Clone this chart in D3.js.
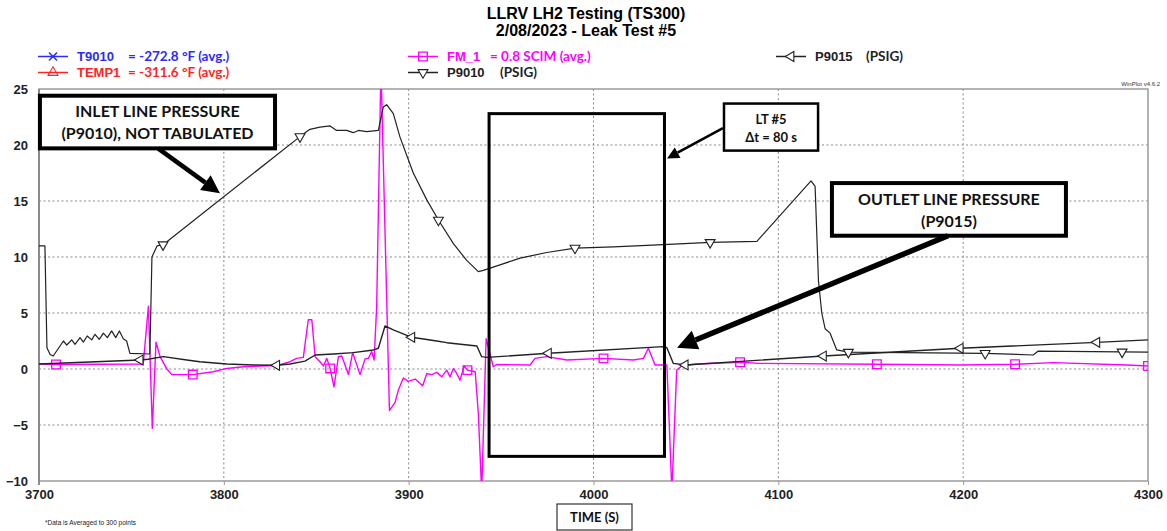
<!DOCTYPE html>
<html>
<head>
<meta charset="utf-8">
<script src="https://cdn.jsdelivr.net/npm/d3@7"></script>
<style>
  body { margin: 0; background: #fff; }
  svg { display: block; font-family: 'Liberation Sans', Arial, sans-serif; }
  .grid line { stroke: #8a8a8a; stroke-dasharray: 2,2.5; stroke-width: 1; }
  .tick-label { font-weight: bold; font-size: 13px; fill: #222; }
  .note { font-family: Lato, 'Open Sans', sans-serif; font-weight: bold; fill: #111; }
</style>
</head>
<body>
<svg></svg>
<script>
let svgWidth = 1167
let svgHeight = 531

let xTicks = [3700, 3800, 3900, 4000, 4100, 4200, 4300]
let yTicks = [-10, -5, 0, 5, 10, 15, 20, 25]

// P9010 inlet pressure (PSIG)
let p9010Time = [3700, 3703.2, 3704.3, 3706, 3707.7, 3713.2, 3715, 3717.7, 3719.5, 3722.2, 3724, 3726.1, 3728.5,
  3730.3, 3732.6, 3734.8, 3737, 3739.3, 3741.5, 3743.5, 3745.6, 3747.4, 3749.2, 3760, 3761.1, 3763.9, 3767.1,
  3841.2, 3846.6, 3852, 3857.5, 3861, 3866.5, 3870, 3872.8, 3877.3, 3883.6, 3886.3, 3888.1, 3891.7, 3895.3,
  3902.5, 3909.8, 3916.1, 3924.2, 3931.4, 3937.7, 3940.4, 3949.4, 3960.3, 3974.7, 3990, 4010.8, 4037.8, 4063.1,
  4088.4, 4117.7, 4119.9, 4121.7, 4123.5, 4125.3, 4128, 4131.6, 4137.9, 4211.9, 4237.9, 4240.6, 4300]
let p9010Val = [11.0, 11.0, 1.9, 1.3, 1.16, 2.5, 2.14, 2.6, 2.2, 2.8, 2.4, 2.95, 2.6,
  3.1, 2.65, 3.2, 2.8, 3.4, 2.8, 3.4, 2.7, 2.5, 1.4, 1.34, 10.0, 11.0, 11.1,
  20.75, 21.4, 21.6, 21.7, 21.3, 21.3, 21.1, 21.3, 21.2, 21.3, 23.4, 23.6, 22.8, 20.7,
  17.5, 15.1, 13.3, 11.2, 9.7, 8.7, 8.8, 9.3, 9.9, 10.4, 10.8, 10.9, 11.1, 11.3,
  11.4, 16.8, 16.3, 7.9, 5.0, 3.6, 3.2, 1.7, 1.5, 1.4, 1.25, 1.6, 1.5]
let p9010Marks = [3767.1, 3841.2, 3916.1, 3990, 4063.1, 4137.9, 4211.9, 4286]

// P9015 outlet pressure (PSIG)
let p9015Time = [3700, 3754.7, 3759, 3767.3, 3780, 3787, 3801.6, 3816, 3828.6, 3835.8, 3843.9, 3849.4, 3859.3,
  3870, 3880.9, 3883.6, 3887.2, 3891.7, 3901.7, 3915.2, 3920.6, 3936.9, 3939.5, 3942.3, 3975.6, 4037.8, 4039.7,
  4043.2, 4049.6, 4124.4, 4198.4, 4272.3, 4300]
let p9015Val = [0.45, 0.8, 0.87, 1.1, 0.8, 0.65, 0.45, 0.36, 0.33, 0.45, 0.7, 1.25, 1.34,
  1.46, 1.7, 1.85, 3.84, 3.5, 2.83, 2.5, 2.35, 2.05, 1.1, 1.04, 1.4, 2.0, 1.9,
  0.5, 0.36, 1.16, 1.85, 2.38, 2.6]
let p9015Marks = [3754.7, 3828.6, 3901.7, 3975.6, 4049.6, 4124.4, 4198.4, 4272.3]

// FM_1 flow (SCIM)
let fm1Time = [3700, 3709.2, 3756.4, 3759.2, 3761.3, 3763.3, 3765.5, 3769, 3771.8, 3783.2, 3794.3, 3801.6, 3810.6,
  3828.6, 3835.8, 3839.4, 3843, 3845.7, 3847.6, 3849.4, 3852, 3853.9, 3855.7, 3857.5, 3859.6, 3862, 3863.8,
  3867.4, 3869.7, 3873.7, 3876.4, 3878.2, 3880, 3881.3, 3882.7, 3885, 3889.6, 3892.6, 3894.4, 3897.1, 3899.8,
  3903.5, 3907.6, 3909.8, 3912.5, 3915.2, 3917.9, 3920.6, 3922.4, 3924.2, 3926, 3927.8, 3930, 3931.8, 3936,
  3937.7, 3939.5, 3941.9, 3945.8, 3947.6, 3965.7, 3968.4, 3974.7, 3985.6, 4005.4, 4021.6, 4027, 4029.7, 4033.3,
  4039.7, 4041.1, 4042.4, 4045, 4047.7, 4055.8, 4079.3, 4090, 4153.3, 4198.4, 4228.1, 4248.8, 4288.5, 4300]
let fm1Val = [0.45, 0.4, 0.45, 5.6, -5.3, 2.4, 1.1, 0.05, -0.5, -0.5, -0.25, 0.05, 0.2,
  0.3, 0.65, 0.95, 1.04, 4.4, 4.4, 1.1, 0.65, 0.27, 0.95, 0.05, -1.6, 1.1, 1.16,
  -0.5, 1.46, -0.5, 0.9, 0.95, 1.55, 0.8, 5.6, 27, -3.7, -3.0, -1.9, -0.8, -1.1,
  -0.9, -1.5, -0.4, -0.5, -0.3, -0.7, -0.1, -0.7, 0.05, -0.4, -1.0, 0.27, -0.1, -0.25,
  -4, -11, 2.7, 0.2, 0.4, 0.36, 0.95, 1.1, 0.8, 0.95, 0.8, 0.95, 1.85, 0.36,
  0.36, -5.4, -11, -0.1, 0.27, 0.45, 0.6, 0.5, 0.42, 0.36, 0.42, 0.57, 0.36, 0.27]
let fm1Marks = [3709.2, 3783.2, 3857.5, 3931.8, 4005.4, 4079.3, 4153.3, 4228.1, 4300]

// annotations in data units [time, value]
let inletBox = [[3700.5, 24.4], [3827.7, 19.7]]
let inletArrow = [[3764.4, 19.7], [3797.9, 15.7]]
let ltBox = [[3943.5, 22.8], [4038.4, -7.8]]
let ltLabelBox = [[4070.6, 23.7], [4121.5, 19.5]]
let ltArrow = [[4070, 21.5], [4039.8, 18.8]]
let outletBox = [[4129, 16.6], [4255.6, 11.9]]
let outletArrow = [[4191.8, 11.9], [4045.2, 1.9]]

let margin = { left: 39, right: 19, top: 89, bottom: 50 }
let xScale = d3.scaleLinear().domain([3700, 4300]).range([margin.left, svgWidth - margin.right])
let yScale = d3.scaleLinear().domain([-10, 25]).range([svgHeight - margin.bottom, margin.top])

let svg = d3.select('svg').attr('width', svgWidth).attr('height', svgHeight)

function interp(times, vals, t) {
  let i = d3.bisectLeft(times, t)
  if (i <= 0) return vals[0]
  if (i >= times.length) return vals[vals.length - 1]
  let f = (t - times[i - 1]) / (times[i] - times[i - 1])
  return vals[i - 1] + f * (vals[i] - vals[i - 1])
}

function setup() {
  // title
  svg.append('text').attr('x', 586).attr('y', 19).attr('text-anchor', 'middle')
    .style('font-weight', 'bold').style('font-size', '16px').text('LLRV LH2 Testing (TS300)')
  svg.append('text').attr('x', 586).attr('y', 36).attr('text-anchor', 'middle')
    .style('font-weight', 'bold').style('font-size', '16px').text('2/08/2023 - Leak Test #5')

  let x0 = margin.left, x1 = svgWidth - margin.right
  let y0 = margin.top, y1 = svgHeight - margin.bottom

  // grid
  svg.append('g').attr('class', 'grid').selectAll('line').data(yTicks.slice(1, -1)).enter().append('line')
    .attr('x1', x0).attr('x2', x1).attr('y1', d => yScale(d)).attr('y2', d => yScale(d))
  svg.append('g').attr('class', 'grid').selectAll('line').data(xTicks.slice(1, -1)).enter().append('line')
    .attr('y1', y0).attr('y2', y1).attr('x1', d => xScale(d)).attr('x2', d => xScale(d))

  // axes
  let yAxis = d3.axisLeft(yScale).tickValues(yTicks).tickSize(0).tickPadding(11)
  let xAxis = d3.axisBottom(xScale).tickValues(xTicks).tickFormat(d3.format('d')).tickSize(4).tickPadding(5)
  let gy = svg.append('g').attr('transform', 'translate(' + x0 + ',0)').call(yAxis)
  gy.select('.domain').remove()
  gy.selectAll('text').attr('class', 'tick-label').attr('font-family', null).attr('font-size', null)
  let gx = svg.append('g').attr('transform', 'translate(0,' + y1 + ')').call(xAxis)
  gx.select('.domain').remove()
  gx.selectAll('line').attr('stroke', '#999')
  gx.selectAll('text').attr('class', 'tick-label').attr('font-family', null).attr('font-size', null)

  svg.append('rect').attr('x', x0).attr('y', y0).attr('width', x1 - x0).attr('height', y1 - y0)
    .attr('fill', 'none').attr('stroke', '#9a9a9a').attr('stroke-width', 1.5)
  svg.append('line').attr('x1', x0).attr('x2', x0).attr('y1', y0).attr('y2', y1 + 4)
    .attr('stroke', '#8a8a8a').attr('stroke-width', 2)

  svg.append('text').attr('x', 1160).attr('y', 86).attr('text-anchor', 'end')
    .style('font-size', '6px').attr('fill', '#333').text('WinPlot v4.6.2')
  svg.append('text').attr('x', 45).attr('y', 525)
    .style('font-size', '6.5px').attr('fill', '#222').text('*Data is Averaged to 300 points')

  svg.append('rect').attr('x', 557).attr('y', 504).attr('width', 75).attr('height', 26)
    .attr('fill', '#fff').attr('stroke', '#333').attr('stroke-width', 1.2)
  svg.append('text').attr('class', 'note').attr('x', 594.5).attr('y', 522).attr('text-anchor', 'middle')
    .style('font-size', '13px').text('TIME (S)')

  svg.append('defs').append('clipPath').attr('id', 'plot-clip')
    .append('rect').attr('x', x0).attr('y', y0).attr('width', x1 - x0).attr('height', y1 - y0)
}

let symbols = {
  down: d3.symbol().type(d3.symbolTriangle).size(42),
  square: d3.symbol().type(d3.symbolSquare).size(75)
}

function drawMarker(g, kind, cx, cy, color) {
  if (kind === 'square') {
    g.append('path').attr('d', symbols.square()).attr('transform', 'translate(' + cx + ',' + cy + ')')
      .attr('fill', 'none').attr('stroke', color).attr('stroke-width', 1.3)
  } else if (kind === 'down') {
    g.append('path').attr('d', symbols.down()).attr('transform', 'translate(' + cx + ',' + cy + ') rotate(180)')
      .attr('fill', '#fff').attr('stroke', color).attr('stroke-width', 1.1)
  } else if (kind === 'left') {
    g.append('path').attr('d', symbols.down()).attr('transform', 'translate(' + cx + ',' + cy + ') rotate(-90)')
      .attr('fill', '#fff').attr('stroke', color).attr('stroke-width', 1.1)
  } else if (kind === 'up') {
    g.append('path').attr('d', symbols.down()).attr('transform', 'translate(' + cx + ',' + cy + ')')
      .attr('fill', 'none').attr('stroke', color).attr('stroke-width', 1.1)
  } else if (kind === 'x') {
    g.append('path').attr('d', 'M-4,-4L4,4M-4,4L4,-4').attr('transform', 'translate(' + cx + ',' + cy + ')')
      .attr('stroke', color).attr('stroke-width', 1.5)
  }
}

function drawSeries(times, vals, marks, color, kind, width) {
  let g = svg.append('g').attr('clip-path', 'url(#plot-clip)')
  let line = d3.line().x(d => xScale(d[0])).y(d => yScale(d[1]))
  g.append('path').datum(d3.zip(times, vals)).attr('d', line)
    .attr('fill', 'none').attr('stroke', color).attr('stroke-width', width).attr('stroke-linejoin', 'round')
  marks.forEach(function(t) {
    drawMarker(g, kind, xScale(t), yScale(interp(times, vals, t)), color)
  })
}

function drawLegend() {
  let rows = [
    { x: 38, y: 61, color: '#2a2aff', kind: 'x', name: 'T9010', val: '=  -272.8 °F  (avg.)', vx: 128 },
    { x: 38, y: 77, color: '#ff2424', kind: 'up', name: 'TEMP1', val: '=  -311.6 °F  (avg.)', vx: 128 },
    { x: 408, y: 61, color: '#ff00ff', kind: 'square', name: 'FM_1', val: '=  0.8 SCIM (avg.)', vx: 490 },
    { x: 408, y: 77, color: '#222', kind: 'down', name: 'P9010', val: '(PSIG)', vx: 500 },
    { x: 776, y: 61, color: '#222', kind: 'left', name: 'P9015', val: '(PSIG)', vx: 866 }
  ]
  let g = svg.append('g')
  rows.forEach(function(r) {
    g.append('line').attr('x1', r.x).attr('x2', r.x + 30).attr('y1', r.y - 4.5).attr('y2', r.y - 4.5)
      .attr('stroke', r.color).attr('stroke-width', 1.5)
    drawMarker(g, r.kind, r.x + 15, r.y - 4.5, r.color)
    g.append('text').attr('x', r.x + 39).attr('y', r.y).attr('fill', r.color)
      .style('font-weight', 'bold').style('font-size', '13px').text(r.name)
    g.append('text').attr('class', 'note').attr('x', r.vx).attr('y', r.y).attr('fill', r.color)
      .style('fill', r.color).style('font-size', '13.5px').text(r.val)
  })
}

function arrow(pts, width, head) {
  let ax = xScale(pts[0][0]), ay = yScale(pts[0][1])
  let bx = xScale(pts[1][0]), by = yScale(pts[1][1])
  let ang = Math.atan2(by - ay, bx - ax)
  let cx = bx - head * Math.cos(ang), cy = by - head * Math.sin(ang)
  let hw = head * 0.5
  svg.append('line').attr('x1', ax).attr('y1', ay).attr('x2', cx).attr('y2', cy)
    .attr('stroke', '#000').attr('stroke-width', width)
  let p = [[bx, by],
    [cx + hw * Math.sin(ang), cy - hw * Math.cos(ang)],
    [cx - hw * Math.sin(ang), cy + hw * Math.cos(ang)]]
  svg.append('path').attr('d', 'M' + p.join('L') + 'Z').attr('fill', '#000')
}

function box(b, width, fill) {
  let bx = xScale(b[0][0]), by = yScale(b[0][1])
  let w = xScale(b[1][0]) - bx, h = yScale(b[1][1]) - by
  svg.append('rect').attr('x', bx).attr('y', by).attr('width', w).attr('height', h)
    .attr('fill', fill ? '#fff' : 'none').attr('stroke', '#000').attr('stroke-width', width)
  return { cx: bx + w / 2, top: by, h: h }
}

function drawNotes() {
  box(ltBox, 3, false)

  let a = box(inletBox, 4, true)
  svg.append('text').attr('class', 'note').attr('x', a.cx).attr('y', a.top + 21).attr('text-anchor', 'middle')
    .style('font-size', '16px').text('INLET LINE PRESSURE')
  svg.append('text').attr('class', 'note').attr('x', a.cx).attr('y', a.top + 43).attr('text-anchor', 'middle')
    .style('font-size', '16px').text('(P9010), NOT TABULATED')
  arrow(inletArrow, 4.5, 18)

  let b = box(ltLabelBox, 2.5, true)
  svg.append('text').attr('class', 'note').attr('x', b.cx).attr('y', b.top + 20).attr('text-anchor', 'middle')
    .style('font-size', '13px').text('LT #5')
  svg.append('text').attr('class', 'note').attr('x', b.cx).attr('y', b.top + 38).attr('text-anchor', 'middle')
    .style('font-size', '13px').text('Δt = 80 s')
  arrow(ltArrow, 2.5, 12)

  let c = box(outletBox, 4, true)
  svg.append('text').attr('class', 'note').attr('x', c.cx).attr('y', c.top + 22).attr('text-anchor', 'middle')
    .style('font-size', '16px').text('OUTLET LINE PRESSURE')
  svg.append('text').attr('class', 'note').attr('x', c.cx).attr('y', c.top + 44).attr('text-anchor', 'middle')
    .style('font-size', '16px').text('(P9015)')
  arrow(outletArrow, 5.5, 20)
}

setup()
drawSeries(fm1Time, fm1Val, fm1Marks, '#ff00ff', 'square', 1.4)
drawSeries(p9015Time, p9015Val, p9015Marks, '#222', 'left', 1.4)
drawSeries(p9010Time, p9010Val, p9010Marks, '#222', 'down', 1.2)
drawLegend()
drawNotes()
</script>
</body>
</html>
